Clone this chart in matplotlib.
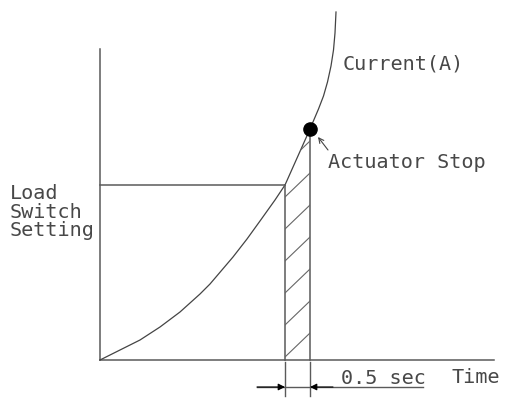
import matplotlib
matplotlib.use('Agg')
import matplotlib.pyplot as plt
from matplotlib.patches import Polygon
import numpy as np

# current curve (time in s, current in arbitrary units)
time_s = [0.0, 0.4, 0.8, 1.2, 1.6, 2.0, 2.2, 2.66, 2.94, 3.2, 3.5, 3.7,
          3.95, 4.2, 4.37, 4.47, 4.55, 4.62, 4.67, 4.70, 4.72]
current = [0.0, 1.0, 2.0, 3.3, 4.8, 6.6, 7.6, 10.3, 12.1, 13.9, 16.0, 17.5,
           20.3, 23.1, 25.1, 26.4, 27.8, 29.4, 31.0, 32.7, 34.8]

x_axis_end = 7.88
y_axis_end = 31.1
switch_time = 3.7      # curve crosses the load switch setting
stop_time = 4.2        # actuator stop, 0.5 sec later
switch_level = 17.5
stop_level = 23.1

load_lines = ['Load', 'Switch', 'Setting']
load_baselines = [16.1, 14.2, 12.4]

line_col = '#5a5a5a'
txt_col = '#484848'
font = 'DejaVu Sans Mono'

fig = plt.figure(figsize=(5.11, 3.99), dpi=100)
ax = fig.add_axes([0, 0, 1, 1])
ax.set_xlim(-2.0, 8.22)
ax.set_ylim(-3.9, 36.0)
ax.axis('off')

# axes
ax.plot([0, x_axis_end], [0, 0], color=line_col, lw=1.1)
ax.plot([0, 0], [0, y_axis_end], color=line_col, lw=1.1)

# current curve
ax.plot(time_s, current, color='#444444', lw=0.9)

# load switch setting level
ax.plot([0, switch_time], [switch_level, switch_level], color=line_col, lw=1.1)

# hatched band between switch and stop
ax.plot([switch_time, switch_time], [0, switch_level], color=line_col, lw=1.1)
ax.plot([stop_time, stop_time], [0, stop_level], color=line_col, lw=1.1)
band_t = [switch_time] + [t for t in time_s if switch_time < t < stop_time] + [stop_time]
band_i = [switch_level] + [c for t, c in zip(time_s, current) if switch_time < t < stop_time] + [stop_level]
poly = Polygon(list(zip([switch_time] + band_t + [stop_time], [0] + band_i + [0])),
               closed=True, fill=False, edgecolor='none')
ax.add_patch(poly)
slope = 4.8
for c in np.arange(0.3, stop_level, 3.2):
    hl, = ax.plot([switch_time, stop_time], [c, c + slope * (stop_time - switch_time)],
                  color='#666666', lw=0.8)
    hl.set_clip_path(poly)

# actuator stop point
ax.plot([stop_time], [stop_level], 'o', color='black', ms=9.5)
ax.annotate('', xy=(4.36, 22.3), xytext=(4.56, 21.0),
            arrowprops=dict(arrowstyle='->', color='#444444', lw=0.8,
                            mutation_scale=9, shrinkA=0, shrinkB=0))

# 0.5 sec dimension
for t in [switch_time, stop_time]:
    ax.plot([t, t], [-0.2, -3.6], color=line_col, lw=1.0)
ax.plot([3.14, 6.46], [-2.7, -2.7], color=line_col, lw=1.0)
ax.annotate('', xy=(switch_time, -2.7), xytext=(3.14, -2.7),
            arrowprops=dict(arrowstyle='-|>', color='black', lw=0.8,
                            mutation_scale=10, shrinkA=0, shrinkB=0))
ax.annotate('', xy=(stop_time, -2.7), xytext=(4.66, -2.7),
            arrowprops=dict(arrowstyle='-|>', color='black', lw=0.8,
                            mutation_scale=10, shrinkA=0, shrinkB=0))

# labels
tk = dict(family=font, fontsize=14.5, color=txt_col, ha='left', va='baseline')
ax.text(4.86, 29.1, 'Current(A)', **tk)
ax.text(4.56, 19.2, 'Actuator Stop', **tk)
for s, b in zip(load_lines, load_baselines):
    ax.text(-1.8, b, s, **tk)
ax.text(7.04, -2.3, 'Time', **tk)
ax.text(4.82, -2.4, '0.5 sec', **tk)

fig.savefig('out.png', dpi=100)
